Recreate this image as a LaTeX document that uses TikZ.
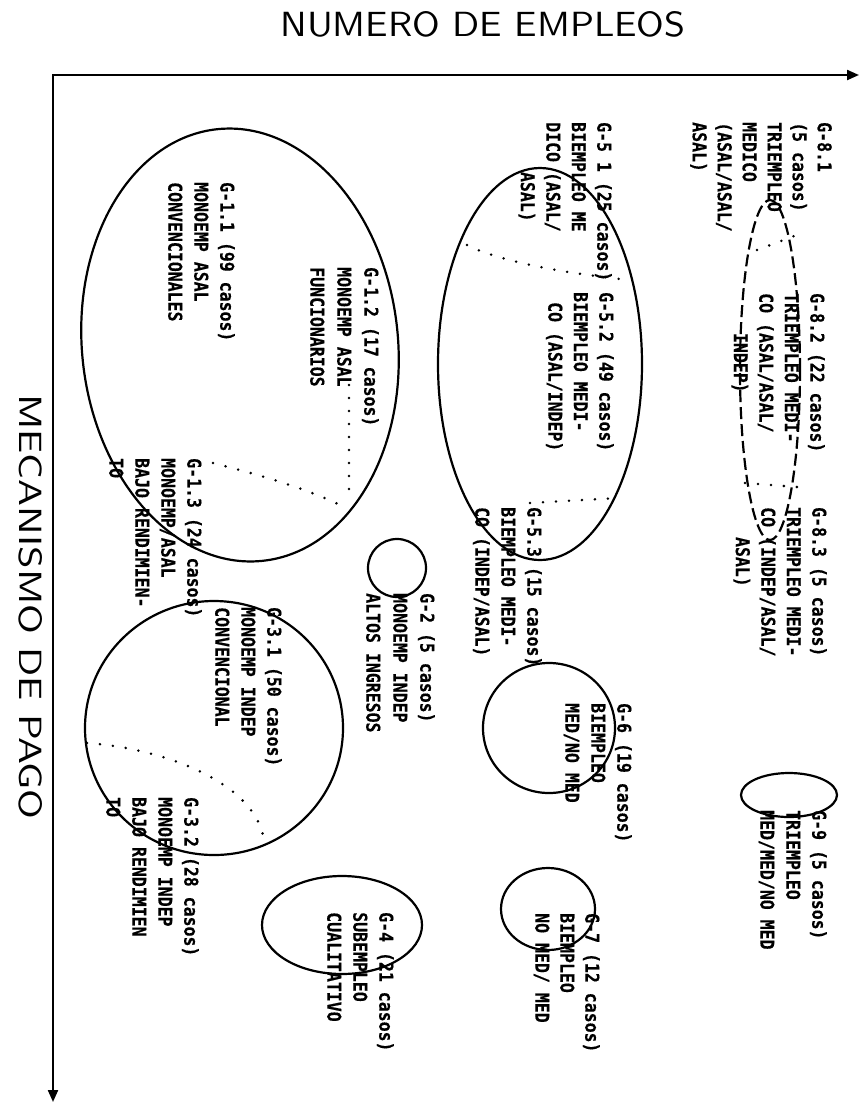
\documentclass[tikz,border=0pt]{standalone}
\usepackage{fontspec}
\usetikzlibrary{arrows.meta}
\newfontfamily\plotfont{DejaVu Sans Mono}[FakeStretch=0.87, BoldFeatures={FakeBold=0.4}]
\tikzset{
  lbl/.style={rotate=-90, anchor=north west, inner sep=0pt, align=left,
    font=\plotfont\bfseries\fontsize{19}{26}\selectfont},
  ring/.style={line width=2.2pt},
  dashring/.style={line width=2.2pt, dash pattern=on 12pt off 5pt},
  dotline/.style={line width=2.8pt, dash pattern=on 0pt off 13pt, line cap=round},
  axis/.style={line width=2.2pt},
  biglabel/.style={inner sep=0pt},
}
\begin{document}
\begin{tikzpicture}[x=1pt,y=-1pt]
\fill[white] (0,0) rectangle (861,1104);
\useasboundingbox (0,0) rectangle (861,1104);

% axes
\coordinate (O) at (53,75);
\coordinate (xend) at (859,75);
\coordinate (yend) at (53,1102);
\draw[axis, {Triangle[length=12pt,width=10pt]}-{Triangle[length=12pt,width=10pt]}] (xend) -- (O) -- (yend);

\node[biglabel] (title) at (483,24) {\resizebox{405pt}{25pt}{\sffamily NUMERO DE EMPLEOS}};
\node[biglabel, rotate=-90] (ylab) at (31,607) {\resizebox{425pt}{23pt}{\sffamily MECANISMO DE PAGO}};

% ellipses
\draw[ring, rotate around={6:(240,345)}] (240,345) ellipse [x radius=158pt, y radius=217pt];
\draw[ring] (540,364) ellipse [x radius=102pt, y radius=196pt];
\draw[dashring] (770,370) ellipse [x radius=30pt, y radius=170pt];
\draw[ring] (397,568) ellipse [x radius=29pt, y radius=29pt];
\draw[ring] (214,728) ellipse [x radius=129pt, y radius=127pt];
\draw[ring] (342,925) ellipse [x radius=80pt, y radius=49pt];
\draw[ring] (549,728) ellipse [x radius=66pt, y radius=65pt];
\draw[ring] (548,909) ellipse [x radius=47pt, y radius=41pt];
\draw[ring] (789,795) ellipse [x radius=48pt, y radius=22pt];

% dotted divisions
\draw[dotline] (213,463) .. controls (260,475) and (305,488) .. (340,505);
\draw[dotline] (349,372) -- (349,492);
\draw[dotline] (467,245) .. controls (500,262) and (570,274) .. (630,280);
\draw[dotline] (530,503) -- (617,498);
\draw[dotline] (745,483) -- (797,487);
\draw[dotline] (757,250) -- (797,235);
\draw[dotline] (87,743) .. controls (160,748) and (250,780) .. (263,835);

% labels
\node[lbl, font=\plotfont\bfseries\fontsize{19}{25}\selectfont] (g81) at (832,122) {G-8.1\\(5 casos)\\TRIEMPLEO\\MEDICO\\(ASAL/ASAL/\\ASAL)};
\node[lbl, font=\plotfont\bfseries\fontsize{19}{25.5}\selectfont] (g82) at (825,293) {G-8.2 (22 casos)\\TRIEMPLEO MEDI-\\CO (ASAL/ASAL/\\\hphantom{0000}INDEP)};
\node[lbl, font=\plotfont\bfseries\fontsize{19}{25.5}\selectfont] (g83) at (827,507) {G-8.3 (5 casos)\\TRIEMPLEO MEDI-\\CO (INDEP/ASAL/\\\hphantom{000}ASAL)};
\node[lbl, font=\plotfont\bfseries\fontsize{19}{25.5}\selectfont] (g51) at (612,122) {G-5 1 (25 casos)\\BIEMPLEO ME\\DICO (ASAL/\\\hphantom{00000}ASAL)};
\node[lbl, font=\plotfont\bfseries\fontsize{19}{25.5}\selectfont] (g52) at (614,292) {G-5.2 (49 casos)\\BIEMPLEO MEDI-\\\hphantom{0}CO (ASAL/INDEP)};
\node[lbl] (g53) at (542,507) {G-5.3 (15 casos)\\BIEMPLEO MEDI-\\CO (INDEP/ASAL)};
\node[lbl] (g11) at (235,182) {G-1.1 (99 casos)\\MONOEMP ASAL\\CONVENCIONALES};
\node[lbl, font=\plotfont\bfseries\fontsize{19}{27}\selectfont] (g12) at (379,267) {G-1.2 (17 casos)\\MONOEMP ASAL\\FUNCIONARIOS};
\node[lbl] (g13) at (202,458) {G-1.3 (24 casos)\\MONOEMP/ASAL\\BAJO RENDIMIEN-\\TO};
\node[lbl, font=\plotfont\bfseries\fontsize{19}{27}\selectfont] (g2) at (435,593) {G-2 (5 casos)\\MONOEMP INDEP\\ALTOS INGRESOS};
\node[lbl] (g31) at (282,607) {G-3.1 (50 casos)\\MONOEMP INDEP\\CONVENCIONAL};
\node[lbl] (g32) at (199,797) {G-3.2 (28 casos)\\MONOEMP INDEP\\BAJO RENDIMIEN\\TO};
\node[lbl] (g4) at (394,912) {G-4 (21 casos)\\SUBEMPLEO\\CUALITATIVO};
\node[lbl] (g6) at (632,703) {G-6 (19 casos)\\BIEMPLEO\\MED/NO MED};
\node[lbl, font=\plotfont\bfseries\fontsize{19}{25}\selectfont] (g7) at (600,913) {G-7 (12 casos)\\BIEMPLEO\\NO MED/ MED};
\node[lbl] (g9) at (827,810) {G-9 (5 casos)\\TRIEMPLEO\\MED/MED/NO MED};
\end{tikzpicture}
\end{document}
